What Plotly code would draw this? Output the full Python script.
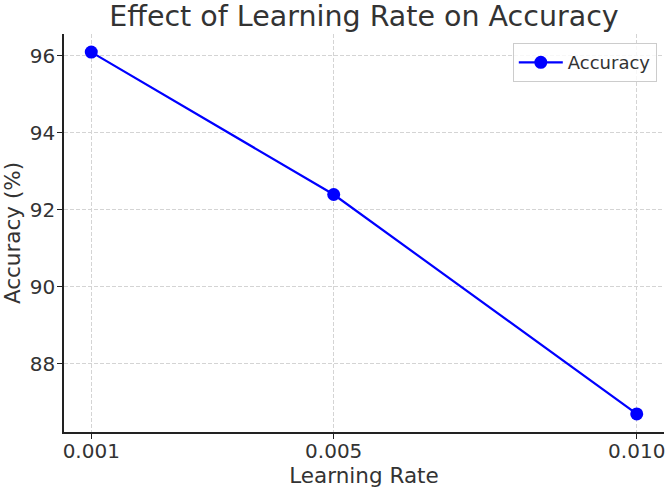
import plotly.graph_objects as go

learning_rates = [0.001, 0.005, 0.010]
accuracy = [96.1, 92.4, 86.7]
x_tick_vals = [0.001, 0.005, 0.010]
x_tick_text = ["0.001", "0.005", "0.010"]
y_tick_vals = [88, 90, 92, 94, 96]

font_family = "DejaVu Sans"
text_color = "#333333"

fig = go.Figure()
fig.add_trace(go.Scatter(
    x=learning_rates, y=accuracy, mode="lines+markers", name="Accuracy",
    line=dict(color="#0000ff", width=2.2),
    marker=dict(color="#0000ff", size=13),
))

fig.update_layout(
    width=669, height=490,
    margin=dict(l=64, r=5, t=34, b=58),
    paper_bgcolor="white", plot_bgcolor="white",
    font=dict(family=font_family, color=text_color, size=20),
    title=dict(text="Effect of Learning Rate on Accuracy", xref="paper", x=0.5, xanchor="center",
               y=0.968, yanchor="middle", font=dict(size=28.5, color=text_color)),
    showlegend=True,
    legend=dict(x=0.988, y=0.977, xanchor="right", yanchor="top",
                bgcolor="rgba(255,255,255,0.8)", bordercolor="#cccccc", borderwidth=1,
                itemwidth=44, font=dict(size=18, color=text_color)),
)

grid_kw = dict(showgrid=True, gridcolor="#d4d4d4", griddash="4px,2px", gridwidth=1,
               showline=True, linecolor="#222222", linewidth=1.5, mirror=False,
               ticks="outside", ticklen=5, tickcolor="#222222", zeroline=False,
               tickfont=dict(size=20))

fig.update_xaxes(
    range=[0.00055, 0.01045], tickvals=x_tick_vals, ticktext=x_tick_text,
    title=dict(text="Learning Rate", standoff=4, font=dict(size=21.5)),
    ticklabelstandoff=-5,
    **grid_kw,
)
fig.update_yaxes(
    range=[86.23, 96.57], tickvals=y_tick_vals,
    title=dict(text="Accuracy (%)", standoff=3, font=dict(size=21.5)),
    ticklabelstandoff=-2,
    **grid_kw,
)

fig.write_html("out.html")
